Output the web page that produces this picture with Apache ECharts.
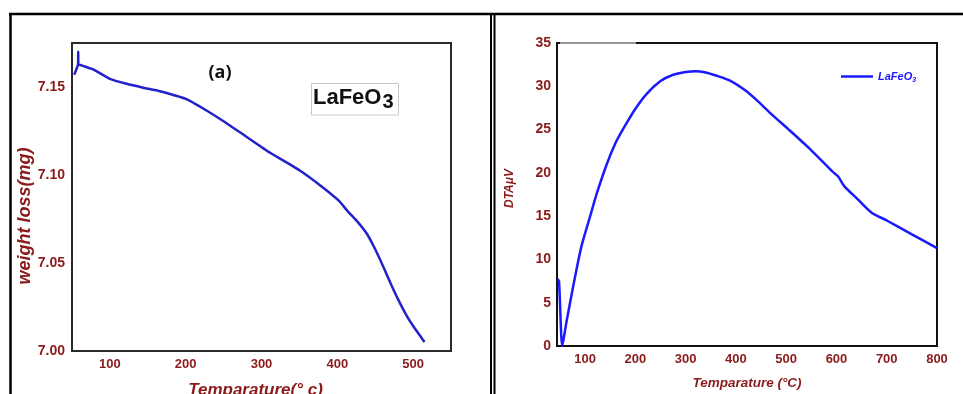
<!DOCTYPE html>
<html>
<head>
<meta charset="utf-8">
<script src="https://cdn.jsdelivr.net/npm/echarts@6/dist/echarts.min.js"></script>
<style>
html,body{margin:0;padding:0;background:#fff;}
#chart{width:963px;height:394px;}
</style>
</head>
<body>
<div id="chart"></div>
<script>
// Panel (a): TGA
const tgaTemp   = [53, 58, 58.2, 58.4, 66, 78, 100, 122, 144, 166, 201, 228, 250, 272, 307, 351, 378, 402, 413, 426, 439, 450, 461, 472, 483, 492, 501, 509, 515];
const tgaWeight = [7.157, 7.163, 7.170, 7.163, 7.1618, 7.160, 7.1546, 7.1518, 7.1496, 7.1476, 7.1431, 7.1365, 7.1305, 7.1241, 7.1138, 7.1024, 7.0939, 7.0854, 7.0798, 7.0738, 7.0666, 7.0578, 7.0476, 7.0368, 7.0269, 7.0197, 7.0136, 7.0088, 7.0051];
const tgaXTicks = [100, 200, 300, 400, 500];
const tgaYTicks = [7.00, 7.05, 7.10, 7.15];

// Panel (b): DTA
const dtaTemp  = [45, 48, 54.5, 62, 70, 83, 93, 110, 123, 143, 160, 176, 200, 222, 250, 274, 300, 320, 340, 360, 390, 419, 445, 472, 505, 550, 591, 603, 615, 643, 670, 700, 750, 800];
const dtaValue = [7.7, 7.5, 0, 2.5, 5.0, 8.9, 11.6, 15.0, 17.6, 21.0, 23.4, 25.1, 27.4, 29.1, 30.6, 31.3, 31.65, 31.75, 31.6, 31.25, 30.6, 29.5, 28.2, 26.7, 25.0, 22.6, 20.2, 19.6, 18.5, 16.9, 15.4, 14.5, 12.9, 11.3];
const dtaXTicks = [100, 200, 300, 400, 500, 600, 700, 800];

const seriesName = 'LaFeO3';
const red = '#8b1a1a';
const fam = 'Liberation Sans, Arial, sans-serif';

const chart = echarts.init(document.getElementById('chart'), null, {renderer: 'canvas'});

const tickLabel = (extra) => Object.assign({color: red, fontWeight: 'bold', fontFamily: fam, fontSize: 13}, extra);

chart.setOption({
  animation: false,
  backgroundColor: '#fff',
  grid: [
    {left: 72, top: 43, width: 379, height: 308, outerBoundsMode: 'none', containLabel: false, show: true, borderColor: '#2a2a2a', borderWidth: 2, backgroundColor: 'transparent'},
    {left: 557, top: 43, width: 380, height: 303, outerBoundsMode: 'none', containLabel: false, show: true, borderColor: '#111', borderWidth: 2, backgroundColor: 'transparent'}
  ],
  xAxis: [
    {type: 'value', gridIndex: 0, min: 50, max: 550,
     axisLine: {show: false}, axisTick: {show: false}, splitLine: {show: false},
     axisLabel: tickLabel({customValues: tgaXTicks, margin: 7}),
     name: 'Temparature(° c)', nameLocation: 'middle', nameGap: 31,
     nameTextStyle: {color: red, fontStyle: 'italic', fontWeight: 'bold', fontSize: 17, fontFamily: fam, padding: [0, 12, 0, 0]}},
    {type: 'value', gridIndex: 1, min: 44, max: 800,
     axisLine: {show: false}, axisTick: {show: false}, splitLine: {show: false},
     axisLabel: tickLabel({customValues: dtaXTicks, margin: 7}),
     name: 'Temparature (°C)', nameLocation: 'middle', nameGap: 30,
     nameTextStyle: {color: red, fontStyle: 'italic', fontWeight: 'bold', fontSize: 13.5, fontFamily: fam}}
  ],
  yAxis: [
    {type: 'value', gridIndex: 0, min: 7.0, max: 7.175,
     axisLine: {show: false}, axisTick: {show: false}, splitLine: {show: false},
     axisLabel: tickLabel({customValues: tgaYTicks, margin: 7, fontSize: 14, formatter: v => Number(v).toFixed(2)}),
     name: 'weight loss(mg)', nameLocation: 'middle', nameGap: 31,
     nameTextStyle: {color: red, fontStyle: 'italic', fontWeight: 'bold', fontSize: 18, fontFamily: fam, padding: [0, 38, 0, 0]}},
    {type: 'value', gridIndex: 1, min: 0, max: 35, interval: 5,
     axisLine: {show: false}, axisTick: {show: false}, splitLine: {show: false},
     axisLabel: tickLabel({margin: 6, fontSize: 14}),
     name: 'DTAμV', nameLocation: 'middle', nameGap: 41,
     nameTextStyle: {color: red, fontStyle: 'italic', fontWeight: 'bold', fontSize: 12, fontFamily: fam, padding: [0, 0, 0, 12]}}
  ],
  legend: {
    data: [seriesName], left: 841, top: 71, padding: 0, itemWidth: 32, itemHeight: 2.5, icon: 'rect',
    formatter: () => '{a|LaFeO}{b|3}',
    textStyle: {
      rich: {
        a: {color: '#1a1aff', fontStyle: 'italic', fontWeight: 'bold', fontSize: 11, fontFamily: fam},
        b: {color: '#1a1aff', fontStyle: 'italic', fontWeight: 'bold', fontSize: 7, fontFamily: fam, padding: [8, 0, 0, 0]}
      }
    }
  },
  series: [
    {type: 'line', name: 'TGA', xAxisIndex: 0, yAxisIndex: 0, showSymbol: false, symbol: 'none',
     smooth: 0.15, lineStyle: {color: '#2222cc', width: 2.5}, itemStyle: {color: '#2222cc'},
     data: tgaTemp.map((t, i) => [t, tgaWeight[i]])},
    {type: 'line', name: seriesName, xAxisIndex: 1, yAxisIndex: 1, showSymbol: false, symbol: 'none',
     smooth: 0.25, lineStyle: {color: '#1a1aff', width: 2.5}, itemStyle: {color: '#1a1aff'},
     data: dtaTemp.map((t, i) => [t, dtaValue[i]])}
  ],
  graphic: [
    {type: 'line', shape: {x1: 9, y1: 14, x2: 963, y2: 14}, style: {stroke: '#000', lineWidth: 2.5}},
    {type: 'line', shape: {x1: 10.5, y1: 13, x2: 10.5, y2: 394}, style: {stroke: '#000', lineWidth: 2.5}},
    {type: 'line', shape: {x1: 491, y1: 13, x2: 491, y2: 394}, style: {stroke: '#000', lineWidth: 2}},
    {type: 'line', shape: {x1: 494.5, y1: 13, x2: 494.5, y2: 394}, style: {stroke: '#000', lineWidth: 2}},
    {type: 'line', shape: {x1: 560, y1: 43, x2: 636, y2: 43}, style: {stroke: '#999', lineWidth: 2}},
    {type: 'text', x: 220, y: 73, style: {text: '(a)', align: 'center', verticalAlign: 'middle', font: 'bold 18px "Open Sans", "Liberation Sans", sans-serif', fill: '#111'}},
    {type: 'rect', shape: {x: 311.5, y: 83.5, width: 87, height: 31.5}, style: {stroke: '#c8c8c8', lineWidth: 1, fill: '#fff'}},
    {type: 'text', x: 313, y: 97.5, style: {text: 'LaFeO', align: 'left', verticalAlign: 'middle', font: 'bold 22px "Liberation Sans", Arial, sans-serif', fill: '#111'}},
    {type: 'text', x: 382.5, y: 102.5, style: {text: '3', align: 'left', verticalAlign: 'middle', font: 'bold 20px "Liberation Sans", Arial, sans-serif', fill: '#111'}}
  ]
});
</script>
</body>
</html>
